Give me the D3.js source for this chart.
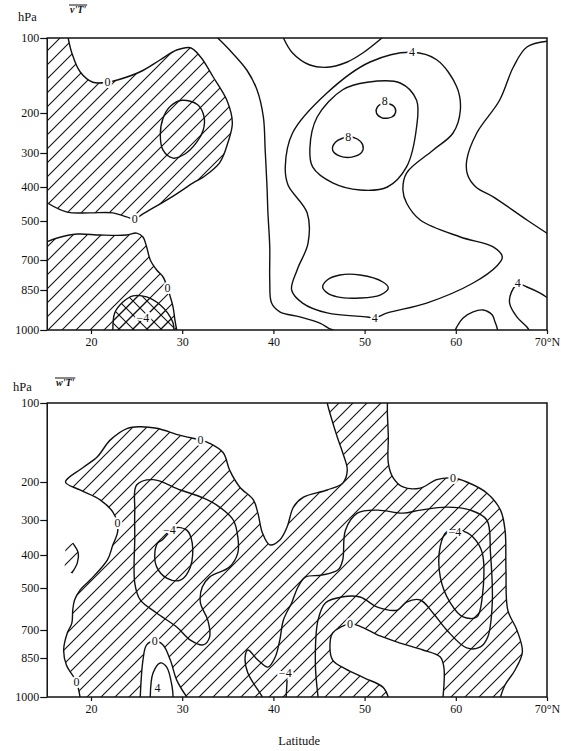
<!DOCTYPE html>
<html>
<head>
<meta charset="utf-8">
<script src="https://cdn.jsdelivr.net/npm/d3@7"></script>
<style>
  body { margin: 0; background: #fff; }
  svg { display: block; }
  text { font-family: "Liberation Serif", "DejaVu Serif", serif; fill: #111; }
</style>
</head>
<body>
<svg id="chart" width="561" height="751"></svg>
<script>
// ---- axes ----
const pressureLevels = [100, 200, 300, 400, 500, 700, 850, 1000];
const latitudeTicks = [20, 30, 40, 50, 60, 70];
const latitudeTickLabels = ["20", "30", "40", "50", "60", "70°N"];
const latitudeExtent = [15.2, 70];

// ---- v'T' isolines: points are [latitude °N, pressure hPa] ----
const vtZeroNorthwest = [[17.5,100],[17.9,120],[18.8,145],[20.2,159],[21.8,159],[22.9,156],[25.4,145],[27.6,129],[29.4,116],[30.9,113],[32.0,125],[33.4,152],[34.9,183],[35.5,225],[35.0,275],[34.1,329],[32.3,371],[31.2,388],[28.7,432],[25.7,479],[24.8,494],[23.9,488],[22.4,476],[19.9,476],[17.4,474],[15.1,445]];
const vtMinus2Pocket = [[30.0,183],[31.7,189],[32.4,210],[32.3,243],[31.6,273],[30.3,303],[29.0,315],[27.9,293],[27.6,255],[27.9,213],[28.7,191]];
const vtZeroSouthwest = [[15.1,608],[16.3,587],[18.5,567],[21.0,572],[23.9,572],[25.0,562],[25.7,582],[26.1,633],[26.5,700],[27.2,750],[27.9,785],[28.4,840],[28.7,876],[29.0,914],[29.2,962],[29.4,1000]];
const vtMinus4Southwest = [[22.4,1000],[22.6,936],[23.5,895],[24.6,872],[26.1,876],[27.6,906],[28.4,936],[29.0,974],[29.1,1000]];
const vtTwoWest = [[33.9,100],[35.2,116],[37.1,143],[38.2,169],[38.9,210],[39.1,293],[39.3,400],[39.4,476],[39.6,633],[39.6,800],[39.8,899],[40.7,932],[42.9,951],[45.1,974],[46.2,996],[46.6,1000]];
const vtTwoTop = [[41.1,100],[42.1,120],[44.0,136],[45.9,139],[48.1,132],[49.8,120],[51.9,100]];
const vtFour = [[55.2,119],[57.9,129],[60.1,165],[60.5,196],[59.7,250],[57.5,293],[54.6,359],[54.2,409],[54.6,447],[56.1,497],[60.5,582],[64.1,633],[65.1,685],[64.5,730],[61.9,815],[56.8,899],[52.5,936],[51.1,955],[50.3,951],[45.9,936],[43.2,899],[42.0,850],[42.6,750],[43.8,613],[43.7,476],[41.6,394],[41.3,341],[42.1,250],[45.9,173],[50.6,132]];
const vtSix = [[44.0,288],[44.8,210],[47.6,169],[50.3,159],[53.9,160],[55.7,183],[55.7,235],[54.6,341],[52.5,400],[49.5,409],[46.5,388],[44.3,341]];
const vtEightNorth = [[51.4,192],[51.3,200],[51.9,212],[53.0,210],[53.4,199],[53.2,191],[52.2,187]];
const vtEightSouth = [[46.8,273],[46.5,293],[47.3,309],[48.6,312],[49.7,298],[49.8,280],[49.2,265],[48.2,260]];
const vtSixLow = [[45.4,835],[45.9,800],[47.3,775],[49.5,775],[52.0,810],[52.6,840],[51.7,869],[49.5,880],[47.0,876],[45.9,861]];
const vtTwoEast = [[70.3,104],[67.8,112],[66.3,139],[64.8,183],[62.3,250],[61.2,321],[61.3,365],[62.2,400],[64.1,429],[67.8,497],[70.3,572]];
const vtFourCorner = [[70.3,885],[69.2,861],[67.8,835],[66.8,820],[66.1,858],[65.9,899],[66.7,951],[67.8,989],[68.1,1004]];
const vtFourSouth = [[59.9,1004],[60.1,989],[60.8,955],[61.9,932],[63.0,925],[64.0,944],[64.3,970],[64.5,989],[64.6,1004]];

// ---- w'T' isolines ----
const wtZeroWest = [[18.8,1000],[18.4,942],[17.3,877],[17.0,807],[17.4,716],[17.9,667],[18.0,605],[18.2,557],[18.8,510],[19.9,476],[21.8,415],[22.4,371],[22.9,337],[22.9,309],[22.4,279],[21.0,247],[18.8,221],[17.2,200],[19.1,182],[20.7,168],[22.1,147],[24.0,132],[25.4,130],[27.2,132],[29.8,141],[32.0,147],[33.0,151],[34.5,163],[35.2,185],[36.3,213],[37.8,247],[38.3,282],[38.8,337],[39.6,371],[40.7,357],[41.5,320],[42.2,266],[43.3,240],[45.9,221],[47.6,203],[48.1,185],[47.6,163],[47.0,143],[46.2,113],[45.9,100]];
const wtZeroEast = [[52.5,100],[52.5,113],[52.6,143],[52.6,176],[53.1,194],[54.2,213],[56.1,216],[57.9,197],[59.7,195],[61.2,200],[63.4,229],[64.9,274],[65.4,329],[65.5,445],[65.7,605],[66.7,700],[67.3,818],[66.5,896],[65.4,954],[64.9,1000]];
const wtZeroHole = [[58.6,1000],[58.7,888],[58.3,845],[56.4,807],[53.9,770],[51.7,732],[49.7,686],[48.4,671],[46.5,716],[46.2,791],[46.5,858],[47.9,892],[50.0,927],[52.0,962],[52.6,1000]];
const wtZeroBump = [[30.5,1000],[29.4,935],[28.7,858],[27.9,780],[27.0,759],[26.1,780],[25.7,858],[25.4,1000]];
const wtZeroSliver = [[18.0,366],[18.6,394],[18.5,424],[17.9,455]];
const wtFourBump = [[26.5,1000],[26.8,908],[27.6,869],[28.3,885],[28.9,962],[29.0,1000]];
const wtMinus2West = [[25.0,208],[26.8,197],[29.8,221],[32.3,242],[34.1,266],[35.6,300],[36.1,349],[36.1,394],[35.2,436],[33.0,467],[32.2,497],[32.0,571],[32.8,652],[33.0,738],[32.3,780],[30.9,754],[29.4,686],[27.2,619],[25.4,557],[24.8,485],[24.8,349],[24.8,274]];
const wtMinus4West = [[30.5,329],[31.1,366],[30.9,436],[29.8,476],[28.3,470],[27.2,436],[27.0,394],[27.3,366],[27.8,357],[29.2,323]];
const wtMinus2Middle = [[38.8,1000],[38.3,973],[37.2,908],[36.9,845],[37.2,807],[38.3,858],[39.4,885],[40.2,845],[40.7,754],[41.1,652],[42.0,571],[42.7,497],[43.5,467],[45.3,461],[47.1,445],[47.6,415],[47.9,329],[49.2,282],[51.4,274],[54.2,282],[56.1,274],[59.0,266],[61.6,274],[63.4,300],[63.8,394],[64.0,571],[63.5,738],[62.7,791],[61.2,796],[59.0,700],[57.5,619],[56.1,557],[54.6,567],[53.6,605],[51.4,591],[49.5,543],[47.5,543],[45.7,571],[44.9,652],[44.6,869],[44.9,1000]];
const wtMinus4Tail = [[41.5,935],[41.4,1000]];
const wtMinus4East = [[59.0,334],[58.3,374],[58.3,467],[59.4,571],[60.8,638],[62.3,638],[62.9,543],[62.9,394],[61.9,349],[60.7,331]];

// ---- panel set-up ----
const panels = [
  {
    id: "vt", title: "v'T'",
    yRange: [38, 113, 153, 187, 221, 260, 290, 330],
    hpaAt: [18, 21], titleAt: [70, 13],
    regions: [
      { pattern: "hatch", parts: [{ line: vtZeroNorthwest }, { corners: [[14,445],[14,90],[17.5,90]] }] },
      { pattern: "hatch", parts: [{ line: vtZeroSouthwest }, { corners: [[29.4,1060],[14,1060],[14,608]] }] },
      { pattern: "crosshatch", parts: [{ line: vtMinus4Southwest }, { corners: [[29.1,1060],[22.4,1060]] }] }
    ],
    lines: [
      { level: 0, pts: vtZeroNorthwest, labels: [[21.8,159],[24.8,494]] },
      { level: -2, pts: vtMinus2Pocket, closed: true },
      { level: 0, pts: vtZeroSouthwest, labels: [[28.4,840]] },
      { level: -4, pts: vtMinus4Southwest, labels: [[25.7,955]] },
      { level: 2, pts: vtTwoWest },
      { level: 2, pts: vtTwoTop },
      { level: 4, pts: vtFour, closed: true, labels: [[55.2,119],[51.1,955]] },
      { level: 6, pts: vtSix, closed: true },
      { level: 8, pts: vtEightNorth, closed: true, labels: [[52.2,184]] },
      { level: 8, pts: vtEightSouth, closed: true, labels: [[48.2,259]] },
      { level: 6, pts: vtSixLow, closed: true },
      { level: 2, pts: vtTwoEast },
      { level: 4, pts: vtFourCorner, labels: [[66.8,815]] },
      { level: 4, pts: vtFourSouth }
    ]
  },
  {
    id: "wt", title: "w'T'",
    yRange: [403, 482, 520, 555, 588, 630, 658, 697],
    hpaAt: [13, 391], titleAt: [56, 386],
    xLabel: "Latitude",
    regions: [
      { pattern: "hatch", parts: [
          { line: wtZeroWest }, { corners: [[45.9,90],[52.5,90]] },
          { line: wtZeroEast }, { corners: [[64.9,1060],[58.6,1060]] },
          { line: wtZeroHole }, { corners: [[52.6,1060],[30.5,1060]] },
          { line: wtZeroBump }, { corners: [[25.4,1060],[18.8,1060]] }
      ] },
      { pattern: "hatch", parts: [{ line: wtZeroSliver }, { corners: [[17.1,445],[17.2,375]] }] }
    ],
    lines: [
      { level: 0, pts: wtZeroWest, labels: [[32.0,147],[22.9,309],[18.4,942]] },
      { level: 0, pts: wtZeroEast, labels: [[59.7,195]] },
      { level: 0, pts: wtZeroHole, labels: [[48.4,671]] },
      { level: 0, pts: wtZeroBump, labels: [[27.0,759]] },
      { level: 0, pts: wtZeroSliver },
      { level: 4, pts: wtFourBump, labels: [[27.3,966]] },
      { level: -2, pts: wtMinus2West, closed: true },
      { level: -4, pts: wtMinus4West, closed: true, labels: [[28.6,329]] },
      { level: -2, pts: wtMinus2Middle },
      { level: -4, pts: wtMinus4Tail, labels: [[41.3,908]] },
      { level: -4, pts: wtMinus4East, closed: true, labels: [[59.9,334]] }
    ]
  }
];

const svg = d3.select("#chart");
const ink = "#111";
const x = d3.scaleLinear().domain([20, 70]).range([91, 547]);
const fmt = v => (v < 0 ? "\u2212" + Math.abs(v) : String(v));

// hatch fills for negative areas
const defs = svg.append("defs");
function hatch(id, cross) {
  const p = defs.append("pattern").attr("id", id)
    .attr("patternUnits", "userSpaceOnUse").attr("width", 14).attr("height", 14);
  p.append("path").attr("d", "M-3.5,3.5L3.5,-3.5M0,14L14,0M10.5,17.5L17.5,10.5")
    .attr("stroke", ink).attr("stroke-width", 1.1);
  if (cross) {
    p.append("path").attr("d", "M-3.5,10.5L3.5,17.5M0,0L14,14M10.5,-3.5L17.5,3.5")
      .attr("stroke", ink).attr("stroke-width", 1.1);
  }
}
hatch("hatch", false);
hatch("crosshatch", true);

panels.forEach(cfg => {
  const y = d3.scaleLinear().domain(pressureLevels).range(cfg.yRange);
  const x0 = x(latitudeExtent[0]), x1 = x(latitudeExtent[1]);
  const y0 = y(pressureLevels[0]), y1 = y(pressureLevels[pressureLevels.length - 1]);

  const openLine = d3.line().x(d => x(d[0])).y(d => y(d[1])).curve(d3.curveCatmullRom.alpha(0.5));
  const closedLine = d3.line().x(d => x(d[0])).y(d => y(d[1])).curve(d3.curveCatmullRomClosed.alpha(0.5));

  defs.append("clipPath").attr("id", "clip-" + cfg.id)
    .append("rect").attr("x", x0).attr("y", y0).attr("width", x1 - x0).attr("height", y1 - y0);

  const g = svg.append("g");
  const plot = g.append("g").attr("clip-path", `url(#clip-${cfg.id})`);

  // shaded (negative) areas
  cfg.regions.forEach(r => {
    let d = "";
    r.parts.forEach(part => {
      if (part.line) {
        const s = openLine(part.line);
        d += d ? "L" + s.slice(1) : s;
      } else {
        part.corners.forEach(c => { d += (d ? "L" : "M") + x(c[0]) + "," + y(c[1]); });
      }
    });
    plot.append("path").attr("d", d + "Z").attr("fill", `url(#${r.pattern})`).attr("stroke", "none");
  });

  // isolines
  cfg.lines.forEach(l => {
    plot.append("path")
      .attr("d", (l.closed ? closedLine : openLine)(l.pts))
      .attr("fill", "none").attr("stroke", ink).attr("stroke-width", 1.4)
      .attr("stroke-linejoin", "round");
  });

  // isoline values: a white knock-out behind each value, then the value itself
  const labelData = cfg.lines.flatMap(l => (l.labels || []).map(p => ({ p, text: fmt(l.level) })));
  plot.selectAll("text.halo").data(labelData).join("text").attr("class", "halo")
    .attr("x", d => x(d.p[0])).attr("y", d => y(d.p[1])).attr("dy", "0.35em")
    .attr("text-anchor", "middle").attr("font-size", 12)
    .style("fill", "#fff").attr("stroke", "#fff").attr("stroke-width", 4)
    .text(d => d.text);
  plot.selectAll("text.value").data(labelData).join("text").attr("class", "value")
    .attr("x", d => x(d.p[0])).attr("y", d => y(d.p[1])).attr("dy", "0.35em")
    .attr("text-anchor", "middle").attr("font-size", 12)
    .text(d => d.text);

  // frame
  g.append("rect").attr("x", x0).attr("y", y0).attr("width", x1 - x0).attr("height", y1 - y0)
    .attr("fill", "none").attr("stroke", ink).attr("stroke-width", 1.5);

  // pressure axis
  const ay = g.append("g").attr("transform", `translate(${x0},0)`)
    .call(d3.axisLeft(y).tickValues(pressureLevels).tickSize(7).tickPadding(1)
      .tickFormat(d3.format("d")));
  ay.select(".domain").remove();
  ay.attr("font-family", null).attr("font-size", 12);
  ay.selectAll("line").attr("stroke", ink).attr("stroke-width", 1.2);

  // latitude axis
  const ax = g.append("g").attr("transform", `translate(0,${y1})`)
    .call(d3.axisBottom(x).tickValues(latitudeTicks).tickSize(4).tickPadding(3)
      .tickFormat((d, i) => latitudeTickLabels[i]));
  ax.select(".domain").remove();
  ax.attr("font-family", null).attr("font-size", 12);
  ax.selectAll("line").attr("stroke", ink).attr("stroke-width", 1.2);

  // unit and quantity captions
  g.append("text").attr("x", cfg.hpaAt[0]).attr("y", cfg.hpaAt[1])
    .attr("font-size", 12.5).text("hPa");
  const t = g.append("text").attr("x", cfg.titleAt[0]).attr("y", cfg.titleAt[1])
    .attr("font-size", 10).attr("font-style", "italic").attr("font-weight", "bold")
    .text(cfg.title);
  const w = t.node().getComputedTextLength();
  g.append("line").attr("x1", cfg.titleAt[0] - 1).attr("x2", cfg.titleAt[0] + w + 1)
    .attr("y1", cfg.titleAt[1] - 8).attr("y2", cfg.titleAt[1] - 8)
    .attr("stroke", ink).attr("stroke-width", 1);

  if (cfg.xLabel) {
    g.append("text").attr("x", (x0 + x1) / 2 + 2).attr("y", y1 + 48)
      .attr("text-anchor", "middle").attr("font-size", 12.5).text(cfg.xLabel);
  }
});
</script>
</body>
</html>
